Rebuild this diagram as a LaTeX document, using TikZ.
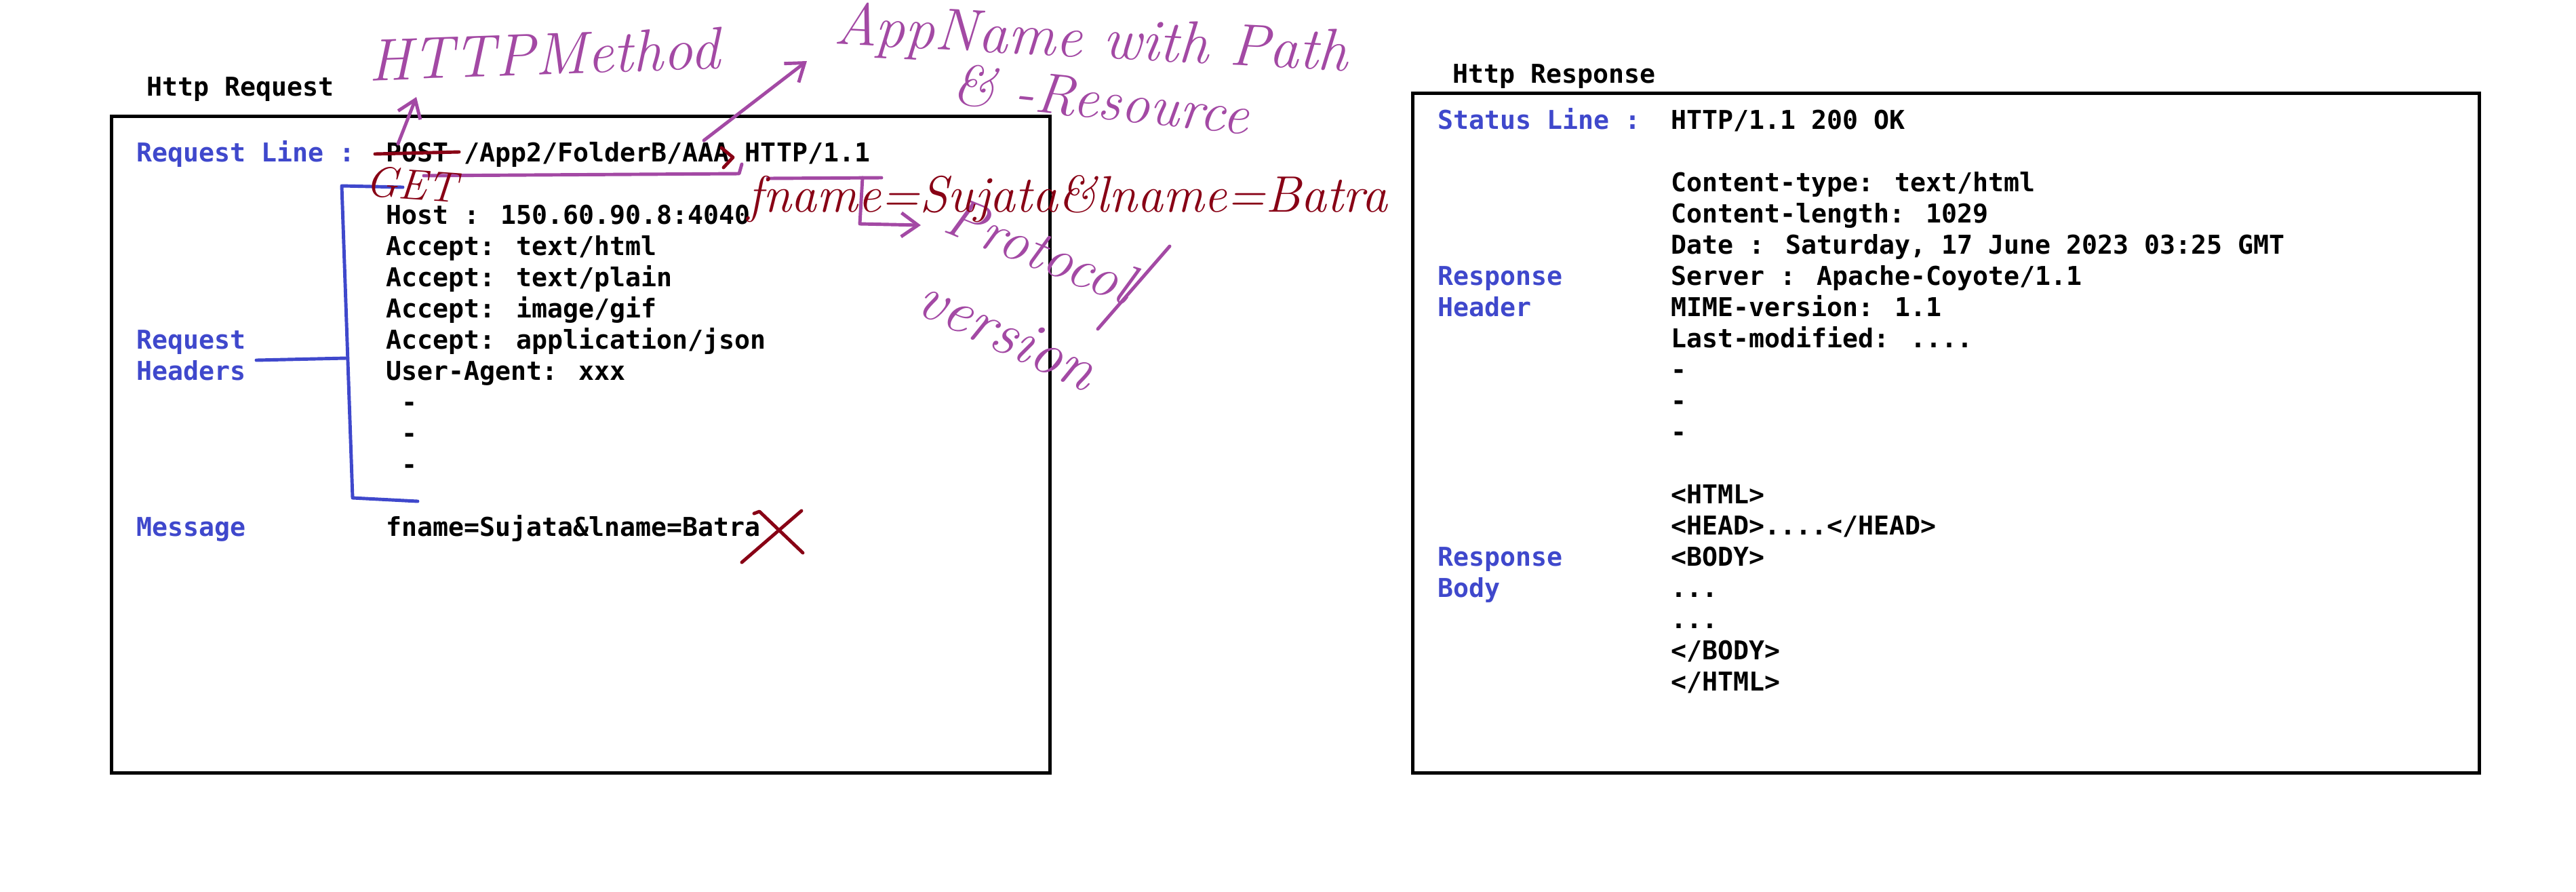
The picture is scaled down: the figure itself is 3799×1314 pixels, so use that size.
\documentclass[tikz,border=0pt]{standalone}
\usepackage{fontspec}
\newfontfamily\monofam{DejaVu Sans Mono}
\usetikzlibrary{arrows.meta}
\definecolor{lblue}{RGB}{63,72,204}
\definecolor{ink}{RGB}{163,73,164}
\definecolor{redink}{RGB}{136,0,21}
\begin{document}
\begin{tikzpicture}[x=0.01cm,y=-0.01cm,
  txt/.style={anchor=base west, inner sep=0pt, font=\monofam\bfseries\fontsize{10.87}{13}\selectfont},
  lbl/.style={txt, text=lblue},
  boxframe/.style={draw, line width=1.3pt, inner sep=0pt},
  pen/.style={line width=1.4pt, line cap=round, line join=round},
  hand/.style={inner sep=0pt, font=\itshape\fontsize{#1}{#1}\selectfont},
  hand/.default=25,
  barb/.style={-{Straight Barb[length=7pt,width=10pt,line width=1.4pt]}}
]
\useasboundingbox (0,0) rectangle (3799,1314);
\fill[white] (0,0) rectangle (3799,1314);

% boxes
\node[boxframe, minimum width=13.83cm, minimum height=9.67cm] (reqbox) at (856.5,655.5) {};
\node[boxframe, minimum width=15.72cm, minimum height=10.01cm] (respbox) at (2870,638.5) {};

% request
\node[txt] (treq) at (216,141) {Http Request};
\node[lbl] (lreqline) at (201,238) {Request Line :};
\node[txt] (reqline) at (569,238) {POST /App2/FolderB/AAA HTTP/1.1};
\node[txt] (host) at (569,330) {Host : 150.60.90.8:4040};
\node[txt] (acc1) at (569,376) {Accept: text/html};
\node[txt] (acc2) at (569,422) {Accept: text/plain};
\node[txt] (acc3) at (569,468) {Accept: image/gif};
\node[txt] (acc4) at (569,514) {Accept: application/json};
\node[txt] (ua) at (569,560) {User-Agent: xxx};
\node[txt] (qd1) at (592,606) {-};
\node[txt] (qd2) at (592,652) {-};
\node[txt] (qd3) at (592,698) {-};
\node[lbl] (lreqh1) at (201,514) {Request};
\node[lbl] (lreqh2) at (201,560) {Headers};
\node[lbl] (lmsg) at (201,790) {Message};
\node[txt] (msg) at (569,790) {fname=Sujata\&lname=Batra};

% response
\node[txt] (tresp) at (2142,122) {Http Response};
\node[lbl] (lstat) at (2120,190) {Status Line :};
\node[txt] (stat) at (2464,190) {HTTP/1.1 200 OK};
\node[txt] (r1) at (2464,282) {Content-type: text/html};
\node[txt] (r2) at (2464,328) {Content-length: 1029};
\node[txt] (r3) at (2464,374) {Date : Saturday, 17 June 2023 03:25 GMT};
\node[txt] (r4) at (2464,420) {Server : Apache-Coyote/1.1};
\node[txt] (r5) at (2464,466) {MIME-version: 1.1};
\node[txt] (r6) at (2464,512) {Last-modified: ....};
\node[txt] (rd1) at (2464,558) {-};
\node[txt] (rd2) at (2464,604) {-};
\node[txt] (rd3) at (2464,650) {-};
\node[txt] (b1) at (2464,742) {<HTML>};
\node[txt] (b2) at (2464,788) {<HEAD>....</HEAD>};
\node[txt] (b3) at (2464,834) {<BODY>};
\node[txt] (b4) at (2464,880) {...};
\node[txt] (b5) at (2464,926) {...};
\node[txt] (b6) at (2464,972) {</BODY>};
\node[txt] (b7) at (2464,1018) {</HTML>};
\node[lbl] (lrh1) at (2120,420) {Response};
\node[lbl] (lrh2) at (2120,466) {Header};
\node[lbl] (lrb1) at (2120,834) {Response};
\node[lbl] (lrb2) at (2120,880) {Body};

% blue bracket for request headers
\coordinate (bt1) at (594,276);
\coordinate (bt0) at (504,274);
\coordinate (bb0) at (520,734);
\coordinate (bb1) at (616,739);
\coordinate (bm0) at (510,528);
\coordinate (bm1) at (378,531);
\draw[pen, lblue] (bt1) -- (bt0) -- (bb0) -- (bb1);
\draw[pen, lblue] (bm0) -- (bm1);

% handwritten annotations (purple)
\node[hand=25, text=ink, rotate=2] (hmethod) at (802,80) {HTTPMethod};
\node[hand=25, text=ink, rotate=-3] (happ) at (1609,62) {AppName with Path};
\node[hand=24, text=ink, rotate=-6] (hres) at (1624,146) {\& -Resource};
\node[hand=24, text=ink, rotate=-22] (hproto) at (1534,368) {Protocol};
\node[hand=26, text=ink, rotate=-25] (hver) at (1486,492) {version};

\coordinate (ma) at (587,212);
\coordinate (mb) at (614,143);
\draw[pen, ink, barb] (ma) -- (mb);
\coordinate (aa) at (1038,207);
\coordinate (ab) at (1190,90);
\draw[pen, ink, barb] (aa) -- (ab);

\coordinate (u0) at (625,259);
\coordinate (u1) at (1090,256);
\coordinate (u2) at (1094,242);
\draw[pen, ink] (u0) -- (u1) -- (u2);

\coordinate (v0) at (1132,263);
\coordinate (v1) at (1300,262);
\draw[pen, ink] (v0) -- (v1);
\coordinate (pd0) at (1272,262);
\coordinate (pd1) at (1268,330);
\coordinate (pd2) at (1358,332);
\draw[pen, ink, barb] (pd0) -- (pd1) -- (pd2);

\coordinate (s0) at (1725,363);
\coordinate (s1) at (1619,485);
\draw[pen, ink] (s0) -- (s1);

% dark red annotations
\node[hand=18, text=redink, rotate=-4] (hget) at (607,272) {GET};
\node[hand=21.5, text=redink, anchor=base west] (hform) at (1102,312) {fname=Sujata\&lname=Batra};

\coordinate (k0) at (553,227);
\coordinate (k1) at (677,224);
\draw[pen, redink] (k0) -- (k1);

\coordinate (g0) at (1064,218);
\coordinate (g1) at (1081,232);
\coordinate (g2) at (1067,247);
\draw[pen, redink] (g0) -- (g1) -- (g2);

\coordinate (x0) at (1112,757);
\coordinate (x1) at (1120,754);
\coordinate (x2) at (1184,815);
\coordinate (x3) at (1182,753);
\coordinate (x4) at (1094,829);
\draw[pen, redink] (x0) -- (x1) -- (x2);
\draw[pen, redink] (x3) -- (x4);
\end{tikzpicture}
\end{document}
